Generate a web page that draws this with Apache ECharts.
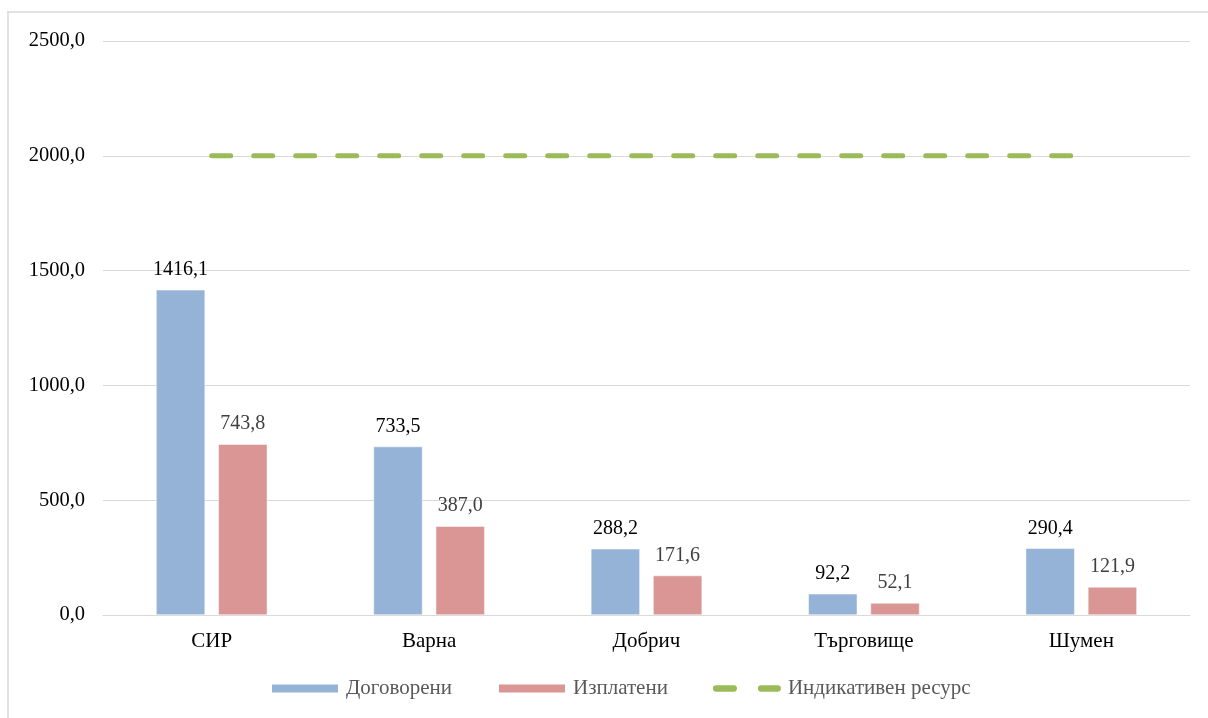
<!DOCTYPE html>
<html>
<head>
<meta charset="utf-8">
<script src="https://cdn.jsdelivr.net/npm/echarts@6/dist/echarts.min.js"></script>
<style>
html,body{margin:0;padding:0;background:#fff;}
#chart{width:1208px;height:718px;}
</style>
</head>
<body>
<div id="chart"></div>
<script>
const categories = ['СИР', 'Варна', 'Добрич', 'Търговище', 'Шумен'];
const contracted = [1416.1, 733.5, 288.2, 92.2, 290.4];
const paid = [743.8, 387.0, 171.6, 52.1, 121.9];
const resource = [2000, 2000, 2000, 2000, 2000];
const seriesNames = ['Договорени', 'Изплатени', 'Индикативен ресурс'];
const yTicks = { min: 0, max: 2500, interval: 500 };

const fmt = v => Number(v).toFixed(1).replace('.', ',');
const FONT = '"Liberation Serif", "Times New Roman", serif';
const dashIcon = 'path://M3,0 L20,0 A3,3 0 0 1 20,6 L3,6 A3,3 0 0 1 3,0 Z M46,0 L62,0 A3,3 0 0 1 62,6 L46,6 A3,3 0 0 1 46,0 Z';

const chart = echarts.init(document.getElementById('chart'));
chart.setOption({
  animation: false,
  backgroundColor: '#fff',
  textStyle: { fontFamily: FONT },
  grid: { left: 103, right: 18, top: 41, bottom: 103, containLabel: false },
  legend: {
    top: 678,
    left: 270,
    padding: 0,
    itemGap: 45,
    itemWidth: 68,
    itemHeight: 10,
    textStyle: { fontFamily: FONT, fontSize: 21, color: '#595959', padding: [0, 0, 0, 2] },
    data: [
      { name: seriesNames[0], icon: 'rect' },
      { name: seriesNames[1], icon: 'rect' },
      { name: seriesNames[2], icon: dashIcon, itemStyle: { color: '#9BBB59', borderWidth: 0 } }
    ]
  },
  xAxis: {
    type: 'category',
    data: categories,
    axisLine: { lineStyle: { color: '#d9d9d9', width: 1 } },
    axisTick: { show: false },
    axisLabel: { fontFamily: FONT, fontSize: 21, color: '#000', margin: 16 }
  },
  yAxis: {
    type: 'value',
    min: yTicks.min,
    max: yTicks.max,
    interval: yTicks.interval,
    axisLine: { show: false },
    axisTick: { show: false },
    splitLine: { lineStyle: { color: '#d9d9d9', width: 1 } },
    axisLabel: { fontFamily: FONT, fontSize: 20.5, color: '#000', margin: 18, formatter: fmt }
  },
  series: [
    {
      name: seriesNames[0],
      type: 'bar',
      data: contracted,
      barWidth: 49,
      barGap: '27%',
      itemStyle: { color: '#95B3D7', borderColor: '#fff', borderWidth: 0.5 },
      label: { show: true, position: 'top', distance: 10, fontFamily: FONT, fontSize: 20, color: '#000', formatter: p => fmt(p.value) }
    },
    {
      name: seriesNames[1],
      type: 'bar',
      data: paid,
      barWidth: 49,
      barGap: '27%',
      itemStyle: { color: '#D99694', borderColor: '#fff', borderWidth: 0.5 },
      label: { show: true, position: 'top', distance: 10, fontFamily: FONT, fontSize: 20, color: '#404040', formatter: p => fmt(p.value) }
    },
    {
      name: seriesNames[2],
      type: 'line',
      data: resource,
      symbol: 'none',
      lineStyle: { color: '#9BBB59', width: 5, type: [19, 23], cap: 'round' },
      itemStyle: { color: '#9BBB59' }
    }
  ],
  graphic: [
    { type: 'line', shape: { x1: 8, y1: 12, x2: 8, y2: 718 }, style: { stroke: '#d9d9d9', lineWidth: 1.5 } },
    { type: 'line', shape: { x1: 7, y1: 12, x2: 1208, y2: 12 }, style: { stroke: '#d9d9d9', lineWidth: 1.5 } }
  ]
});
</script>
</body>
</html>
